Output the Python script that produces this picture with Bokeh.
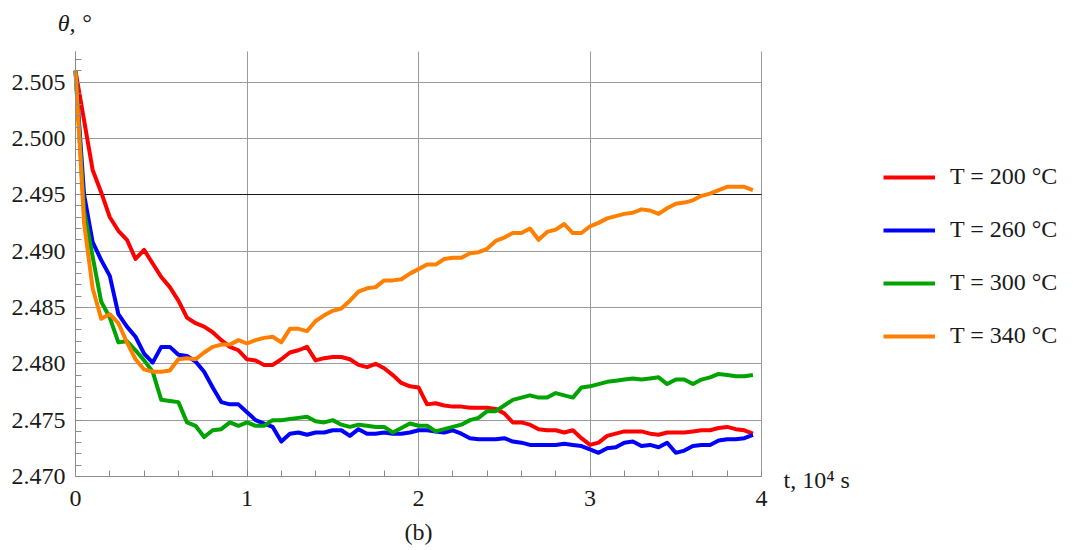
import numpy as np
from bokeh.plotting import figure
from bokeh.models import (Range1d, FixedTicker, PrintfTickFormatter, Legend,
                          LegendItem, Label, Grid)
from bokeh.embed import file_html
from bokeh.resources import INLINE

# time, 10^4 s (sampling step 0.05)
t = np.round(np.arange(80) * 0.05, 2)

theta_200 = [
    2.5060, 2.5016, 2.4972, 2.4952, 2.4930, 2.4918, 2.4910, 2.4893, 2.4901, 2.4889,
    2.4877, 2.4868, 2.4856, 2.4841, 2.4836, 2.4833, 2.4828, 2.4821, 2.4815, 2.4812,
    2.4804, 2.4803, 2.4799, 2.4799, 2.4804, 2.4810, 2.4812, 2.4815, 2.4803, 2.4805,
    2.4806, 2.4806, 2.4804, 2.4799, 2.4797, 2.4800, 2.4796, 2.4790, 2.4783, 2.4780,
    2.4779, 2.4764, 2.4765, 2.4763, 2.4762, 2.4762, 2.4761, 2.4761, 2.4761, 2.4760,
    2.4756, 2.4748, 2.4748, 2.4746, 2.4742, 2.4741, 2.4741, 2.4739, 2.4741, 2.4734,
    2.4728, 2.4730, 2.4736, 2.4738, 2.4740, 2.4740, 2.4740, 2.4738, 2.4737, 2.4739,
    2.4739, 2.4739, 2.4740, 2.4741, 2.4741, 2.4743, 2.4744, 2.4742, 2.4741, 2.4738,
]
theta_260 = [
    2.5060, 2.4950, 2.4908, 2.4892, 2.4878, 2.4844, 2.4833, 2.4824, 2.4809, 2.4801,
    2.4815, 2.4815, 2.4808, 2.4807, 2.4802, 2.4793, 2.4779, 2.4766, 2.4764, 2.4764,
    2.4757, 2.4750, 2.4747, 2.4744, 2.4731, 2.4738, 2.4739, 2.4737, 2.4739, 2.4739,
    2.4741, 2.4741, 2.4736, 2.4742, 2.4738, 2.4738, 2.4739, 2.4738, 2.4738, 2.4739,
    2.4741, 2.4741, 2.4740, 2.4739, 2.4741, 2.4738, 2.4734, 2.4733, 2.4733, 2.4733,
    2.4734, 2.4731, 2.4730, 2.4728, 2.4728, 2.4728, 2.4728, 2.4729, 2.4728, 2.4727,
    2.4724, 2.4721, 2.4725, 2.4726, 2.4730, 2.4731, 2.4727, 2.4728, 2.4726, 2.4730,
    2.4721, 2.4723, 2.4727, 2.4728, 2.4728, 2.4732, 2.4733, 2.4733, 2.4734, 2.4737,
]
theta_300 = [
    2.5060, 2.4936, 2.4895, 2.4855, 2.4841, 2.4819, 2.4820, 2.4812, 2.4803, 2.4793,
    2.4768, 2.4767, 2.4766, 2.4748, 2.4745, 2.4735, 2.4741, 2.4742, 2.4748, 2.4745,
    2.4748, 2.4745, 2.4745, 2.4750, 2.4750, 2.4751, 2.4752, 2.4753, 2.4749, 2.4748,
    2.4750, 2.4746, 2.4744, 2.4746, 2.4745, 2.4744, 2.4744, 2.4739, 2.4743, 2.4747,
    2.4745, 2.4745, 2.4740, 2.4742, 2.4744, 2.4746, 2.4750, 2.4752, 2.4758, 2.4758,
    2.4763, 2.4768, 2.4770, 2.4772, 2.4770, 2.4770, 2.4774, 2.4772, 2.4770, 2.4779,
    2.4780, 2.4782, 2.4784, 2.4785, 2.4786, 2.4787, 2.4786, 2.4787, 2.4788, 2.4782,
    2.4786, 2.4786, 2.4782, 2.4786, 2.4788, 2.4791, 2.4790, 2.4789, 2.4789, 2.4790,
]
theta_340 = [
    2.5060, 2.4925, 2.4867, 2.4840, 2.4844, 2.4836, 2.4819, 2.4804, 2.4795, 2.4793,
    2.4793, 2.4794, 2.4804, 2.4805, 2.4804, 2.4810, 2.4815, 2.4817, 2.4817, 2.4821,
    2.4818, 2.4821, 2.4823, 2.4824, 2.4819, 2.4831, 2.4831, 2.4829, 2.4838, 2.4843,
    2.4847, 2.4849, 2.4856, 2.4864, 2.4867, 2.4868, 2.4874, 2.4874, 2.4875, 2.4880,
    2.4884, 2.4888, 2.4888, 2.4893, 2.4894, 2.4894, 2.4898, 2.4899, 2.4902, 2.4909,
    2.4912, 2.4916, 2.4916, 2.4920, 2.4910, 2.4917, 2.4919, 2.4924, 2.4916, 2.4916,
    2.4922, 2.4925, 2.4929, 2.4931, 2.4933, 2.4934, 2.4937, 2.4936, 2.4933, 2.4938,
    2.4942, 2.4943, 2.4945, 2.4949, 2.4951, 2.4954, 2.4957, 2.4957, 2.4957, 2.4954,
]

series_labels = ["T = 200 °C", "T = 260 °C", "T = 300 °C", "T = 340 °C"]
series_colors = ["#ff0000", "#0000ff", "#00a300", "#ff8000"]

x_ticks = [0, 1, 2, 3, 4]
y_ticks = [2.470, 2.475, 2.480, 2.485, 2.490, 2.495, 2.500, 2.505]
x_lim = (0, 4)
y_lim = (2.470, 2.5077)

FONT = "Liberation Serif"
FS = "24px"

# canvas geometry: the frame covers the whole canvas and both axes are pinned
# to the data limits, so that captions and legend are free to sit outside the box
W, H = 1073, 550
PX_X0, PX_X4 = 75.0, 761.0       # pixel columns of t = 0 and t = 4
PX_Y470, PX_Y505 = 476.0, 81.5   # pixel rows of 2.470 and 2.505
kx = (PX_X4 - PX_X0) / 4.0
ky = (PX_Y470 - PX_Y505) / 0.035
x_range = Range1d(-PX_X0 / kx, (W - PX_X0) / kx)
y_range = Range1d(2.470 - (H - PX_Y470) / ky, 2.470 + PX_Y470 / ky)

p = figure(width=W, height=H, output_backend="svg", toolbar_location=None,
           x_range=x_range, y_range=y_range,
           min_border_left=0, min_border_right=0,
           min_border_top=0, min_border_bottom=0)
p.min_border = 0
p.outline_line_color = None
p.background_fill_color = "white"
p.border_fill_color = "white"

# axes
p.xaxis.ticker = FixedTicker(ticks=x_ticks,
                             minor_ticks=[round(i * 0.2, 1) for i in range(21)])
p.yaxis.ticker = FixedTicker(ticks=y_ticks,
                             minor_ticks=[round(2.470 + i * 0.001, 3) for i in range(38)])
p.yaxis.formatter = PrintfTickFormatter(format="%.3f")
p.xaxis.fixed_location = y_lim[0]
p.yaxis.fixed_location = x_lim[0]
p.xaxis.bounds = x_lim
p.yaxis.bounds = y_lim
for ax in (p.xaxis, p.yaxis):
    ax.axis_line_color = "#8c8c8c"
    ax.axis_line_width = 1
    ax.major_tick_line_color = "#8c8c8c"
    ax.minor_tick_line_color = "#8c8c8c"
    ax.major_tick_in = 6
    ax.major_tick_out = 0
    ax.minor_tick_in = 6
    ax.minor_tick_out = 0
    ax.major_label_text_font = FONT
    ax.major_label_text_font_size = FS
    ax.major_label_text_color = "#1a1a1a"
p.xaxis.major_label_standoff = 14
p.yaxis.major_label_standoff = 10

p.xgrid.ticker = FixedTicker(ticks=x_ticks)
p.ygrid.ticker = FixedTicker(ticks=y_ticks)
p.xgrid.cross_bounds = y_lim
p.ygrid.cross_bounds = x_lim
p.grid.grid_line_color = "#9a9a9a"
p.grid.grid_line_width = 1
# the 2.495 line is drawn darker
p.add_layout(Grid(dimension=1, ticker=FixedTicker(ticks=[2.495]), cross_bounds=x_lim,
                  grid_line_color="#1a1a1a", grid_line_width=1))

# curves
series = [theta_200, theta_260, theta_300, theta_340]
renderers = []
for vals, col in zip(series, series_colors):
    r = p.line(t, vals, line_color=col, line_width=4, line_join="round")
    renderers.append(r)

legend = Legend(items=[LegendItem(label=lab, renderers=[r])
                       for lab, r in zip(series_labels, renderers)],
                location=(883, 201), orientation="vertical",
                glyph_width=52, glyph_height=20, label_height=20,
                spacing=26, padding=0, margin=0, label_standoff=15,
                label_text_font=FONT, label_text_font_size=FS,
                label_text_color="#1a1a1a",
                border_line_color=None, background_fill_alpha=0)
p.add_layout(legend)

# axis captions (screen units, origin at bottom-left)
p.add_layout(Label(x=74, y=528, x_units="screen", y_units="screen", text="θ, °",
                   text_font=FONT, text_font_size=FS, text_font_style="italic",
                   text_align="center", text_baseline="alphabetic",
                   text_color="#1a1a1a"))
p.add_layout(Label(x=783, y=71, x_units="screen", y_units="screen", text="t, 10⁴ s",
                   text_font=FONT, text_font_size=FS,
                   text_align="left", text_baseline="alphabetic",
                   text_color="#1a1a1a"))
p.add_layout(Label(x=418, y=19, x_units="screen", y_units="screen", text="(b)",
                   text_font=FONT, text_font_size=FS,
                   text_align="center", text_baseline="alphabetic",
                   text_color="#1a1a1a"))

open("out.html", "w").write(file_html(p, INLINE))
